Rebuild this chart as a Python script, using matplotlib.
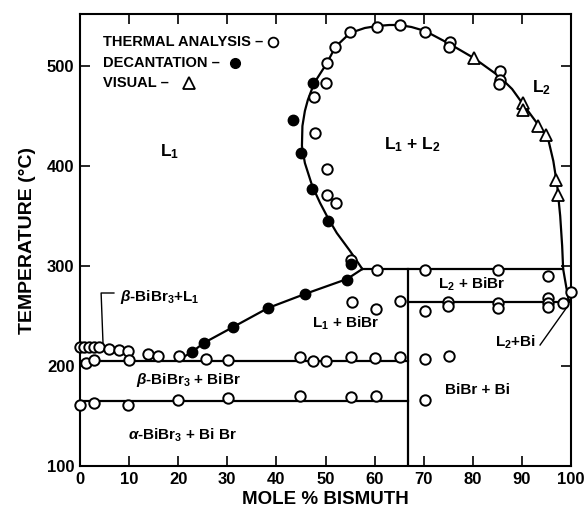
import matplotlib
matplotlib.use("Agg")
from matplotlib import pyplot as plt

plt.rcParams["font.family"] = "Liberation Sans"
plt.rcParams["font.weight"] = "bold"
plt.rcParams["mathtext.fontset"] = "custom"
plt.rcParams["mathtext.rm"] = "Liberation Sans:bold"
plt.rcParams["mathtext.it"] = "Liberation Sans:bold:italic"
plt.rcParams["mathtext.bf"] = "Liberation Sans:bold"

# thermal analysis points (mole % Bi, deg C)
thermal_x = [0, 0.9, 1.9, 2.9, 3.9, 6.0, 8.0, 9.8, 13.8, 15.9, 20.1,
             1.2, 2.9, 10, 25.6, 30.2, 44.8, 47.5, 50.1, 55.2, 60.1, 65.1,
             0, 2.9, 9.8, 20, 30.1, 44.8, 55.2, 60.3,
             55.4, 60.3, 65.2,
             60.4, 70.3, 85.1, 95.3,
             70.3, 75.0, 75.0, 85.1, 85.1, 95.3, 95.3, 95.3, 98.3, 100,
             70.3, 75.2, 70.3,
             55.2, 50.3, 52.1, 50.4, 47.9, 47.6, 50.1, 50.3, 52, 55, 60.5,
             65.2, 70.3, 75.4, 75.2, 85.5, 85.5, 85.3]
thermal_t = [219, 219, 219, 219, 219, 217, 216, 215, 212, 210, 210,
             203, 206, 206, 207, 206, 209, 205, 205, 209, 208, 209,
             161, 163, 161, 166, 168, 170, 169, 170,
             264, 257, 265,
             296, 296, 296, 290,
             255, 264, 260, 263, 258, 268, 263, 259, 263, 274,
             207, 210, 166,
             306, 371, 363, 397, 433, 469, 483, 503, 519, 534, 539,
             541, 534, 524, 519, 495, 486, 482]

# decantation points
decant_x = [22.8, 25.2, 31.2, 38.3, 45.8, 54.4, 55.1, 50.5, 47.3, 45.1, 43.3, 47.5]
decant_t = [214, 223, 239, 258, 272, 286, 302, 345, 377, 413, 446, 483]

# visual points
visual_x = [80.2, 90.2, 90.2, 93.3, 94.9, 96.9, 97.4]
visual_t = [508, 463, 456, 440, 431, 386, 371]

# liquid miscibility gap boundary
gap_x = [57.5, 55.0, 52.3, 50.5, 48.9, 47.3, 45.8, 45.2, 45.3, 45.8, 46.4, 47.7,
         50.3, 52.0, 55.0, 58.0, 60.5, 63.0, 65.0, 67.5, 70.3, 75.3, 80.2,
         85.3, 88.0, 90.2, 93.5, 95.3, 96.4, 97.2, 97.8, 98.2, 98.4, 99.0,
         99.5, 100]
gap_t = [297, 315, 333, 348, 363, 380, 403, 420, 440, 455, 466, 483,
         503, 519, 533, 538, 540, 541, 541, 539, 535, 522, 508,
         490, 477, 462, 440, 428, 405, 380, 350, 320, 297, 280,
         266, 266]

# L1 + BiBr liquidus
liq_x = [20.4, 22.8, 25.2, 31.2, 38.3, 45.8, 54.4, 57.5]
liq_t = [207, 214, 223, 239, 258, 272, 287, 297]

fig = plt.figure(figsize=(5.88, 5.18), dpi=100)
ax = fig.add_axes([80 / 588, 52 / 518, 491 / 588, 452 / 518])

lw = 1.6
ax.plot(gap_x, gap_t, color="black", lw=lw)
ax.plot(liq_x, liq_t, color="black", lw=lw)
ax.plot([0, 66.8], [205, 205], color="black", lw=lw)
ax.plot([0, 66.8], [165, 165], color="black", lw=lw)
ax.plot([66.8, 66.8], [100, 297], color="black", lw=lw)
ax.plot([57.5, 98.4], [297, 297], color="black", lw=lw)
ax.plot([66.8, 99.6], [264, 264], color="black", lw=lw)

# leader lines
ax.plot([6.9, 4.3, 4.7], [273, 273, 221], color="black", lw=1.0)
ax.plot([93.7, 99.2], [221, 259], color="black", lw=1.0)

ms = 7.5
ax.plot(thermal_x, thermal_t, "o", ms=ms, mfc="white", mec="black", mew=1.4,
        clip_on=False, zorder=3)
ax.plot(decant_x, decant_t, "o", ms=ms, mfc="black", mec="black", clip_on=False, zorder=4)
ax.plot(visual_x, visual_t, "^", ms=9, mfc="white", mec="black", mew=1.3, zorder=3)

# key
ax.text(4.7, 524, "THERMAL ANALYSIS –", fontsize=10.5, va="center", ha="left")
ax.plot([39.4], [524], "o", ms=7, mfc="white", mec="black", mew=1.3)
ax.text(4.7, 503, "DECANTATION –", fontsize=10.5, va="center", ha="left")
ax.plot([31.6], [503], "o", ms=7, mfc="black", mec="black")
ax.text(4.7, 483, "VISUAL –", fontsize=10.5, va="center", ha="left")
ax.plot([22.2], [483], "^", ms=9, mfc="white", mec="black", mew=1.3)

# field labels
ax.text(18.3, 414, "L$_{1}$", fontsize=12.5, ha="center", va="center")
ax.text(67.6, 421, "L$_{1}$ + L$_{2}$", fontsize=12.5, ha="center", va="center")
ax.text(94.0, 478, "L$_{2}$", fontsize=12.5, ha="center", va="center")
ax.text(8.2, 269, "$\\beta$-BiBr$_{3}$+L$_{1}$", fontsize=11, ha="left", va="center")
ax.text(54.0, 243, "L$_{1}$ + BiBr", fontsize=11, ha="center", va="center")
ax.text(79.8, 282, "L$_{2}$ + BiBr", fontsize=11, ha="center", va="center")
ax.text(88.6, 224, "L$_{2}$+Bi", fontsize=11, ha="center", va="center")
ax.text(22.0, 186, "$\\beta$-BiBr$_{3}$ + BiBr", fontsize=11, ha="center", va="center")
ax.text(20.8, 131, "$\\alpha$-BiBr$_{3}$ + Bi Br", fontsize=11, ha="center", va="center")
ax.text(81.0, 176, "BiBr + Bi", fontsize=11, ha="center", va="center")

ax.set_xlim(0, 100)
ax.set_ylim(100, 552)
ax.set_xticks(range(0, 101, 10))
ax.set_yticks(range(100, 501, 100))
ax.tick_params(direction="in", length=7, width=1.2, top=True, right=True,
               labelsize=12, pad=4)
for s in ax.spines.values():
    s.set_linewidth(1.5)
ax.set_xlabel("MOLE % BISMUTH", fontsize=13.5, fontweight="bold", labelpad=3)
ax.set_ylabel("TEMPERATURE (°C)", fontsize=14, fontweight="bold", labelpad=8)

fig.savefig("out.png", dpi=100)
